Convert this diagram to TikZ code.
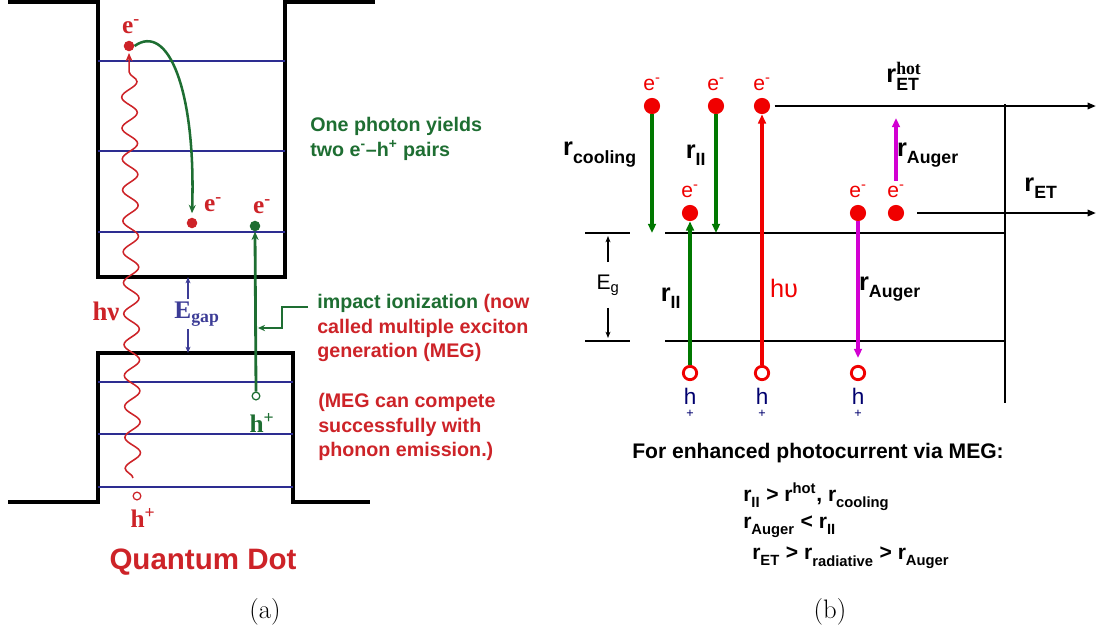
\documentclass[tikz,border=0pt]{standalone}
\usepackage{fontspec}
\setsansfont{Liberation Sans}
\newfontfamily\tmsfont{Liberation Serif}
\usepackage{amsmath}
\usetikzlibrary{arrows.meta, positioning, decorations.pathmorphing}
\definecolor{qdred}{RGB}{205,35,40}
\definecolor{qdgreen}{RGB}{30,110,50}
\definecolor{qdblue}{RGB}{45,45,145}
\definecolor{egblue}{RGB}{60,60,150}
\definecolor{ratered}{RGB}{240,0,0}
\definecolor{rategreen}{RGB}{0,120,0}
\definecolor{augmag}{RGB}{210,0,210}
\definecolor{holeblue}{RGB}{0,0,110}

\tikzset{
  wall/.style={line width=2.4pt, line join=miter},
  level/.style={qdblue, line width=2pt},
  qdot/.style={circle, fill=#1, inner sep=0pt, minimum size=7.5pt},
  qhole/.style={circle, draw=#1, line width=0.9pt, inner sep=0pt, minimum size=5.5pt},
  serlab/.style={font=\tmsfont\bfseries\fontsize{18}{18}\selectfont, inner sep=0pt},
  qtext/.style={font=\sffamily\bfseries\fontsize{14}{17.5}\selectfont, align=left, inner sep=0pt, anchor=north west},
  band/.style={line width=2pt},
  edot/.style={circle, fill=ratered, inner sep=0pt, minimum size=11.5pt},
  hdot/.style={circle, draw=ratered, line width=2pt, inner sep=0pt, minimum size=9.5pt},
  elab/.style={ratered, font=\sffamily\fontsize{15}{15}\selectfont, inner sep=0pt},
  hlab/.style={holeblue, font=\sffamily\fontsize{16}{10}\selectfont, align=center, inner sep=0pt},
  rlab/.style={font=\sffamily\bfseries\fontsize{18}{18}\selectfont, inner sep=0pt},
  trans/.style={line width=2.2pt, -{Triangle[length=6.5pt,width=5.5pt]}},
  thinarr/.style={line width=0.8pt, -{Stealth[length=4.5pt,width=3.5pt]}},
  capt/.style={font=\fontsize{19}{19}\selectfont, inner sep=0pt}
}
\newcommand\rsub[2][]{r$^{\text{#1}}_{\text{#2}}$}

\begin{document}
\begin{tikzpicture}[x=0.025cm, y=-0.025cm]
\useasboundingbox (0,0) rectangle (1098,634);

% ---------- (a) quantum dot ----------
\draw[wall] (8,2) -- (98,2) -- (98,277) -- (285,277) -- (285,2) -- (375,2);
\draw[wall] (8,502) -- (98,502) -- (98,353) -- (293,353) -- (293,502) -- (370,502);
\foreach \y in {61,151,232} \draw[level] (98,\y) -- (285,\y);
\foreach \y in {382,434,487} \draw[level] (98,\y) -- (293,\y);

\node[qdot=qdred] (e1) at (129,46) {};
\node[qdot=qdred] (e2) at (192,223) {};
\node[qdot=qdgreen] (e3) at (255,226) {};
\node[qhole=qdred] (h1) at (137,496) {};
\node[qhole=qdgreen] (h2) at (256,396) {};

\node[serlab, qdred] (e1lab) at (131,27) {e\textsuperscript{-}};
\node[serlab, qdred] (e2lab) at (213,205) {e\textsuperscript{-}};
\node[serlab, qdred] (e3lab) at (262,207) {e\textsuperscript{-}};
\node[serlab, qdred] (h1lab) at (143,518) {h\textsuperscript{+}};
\node[serlab, qdgreen] (h2lab) at (262,423) {h\textsuperscript{+}};
\node[serlab, qdred, font=\tmsfont\bfseries\fontsize{19}{19}\selectfont] (hnu) at (106,311) {hν};

% photon
\coordinate (wstart) at (133,478);
\draw[qdred, line width=1.1pt, decorate,
  decoration={snake, amplitude=5.5pt, segment length=22pt, post length=6pt},
  -{Stealth[length=6pt,width=5pt]}] (wstart) -- ([yshift=-1pt]e1.south);

% impact ionization
\draw[qdgreen, line width=1.8pt, -{Stealth[length=6pt,width=5pt]}]
  (e1.east) .. controls (168,22) and (196,90) .. ([yshift=3pt]e2.north);
\draw[qdgreen, line width=2pt, -{Stealth[length=6pt,width=5pt]}] (h2.north) -- (e3.south);

% gap
\node[serlab, egblue, font=\tmsfont\bfseries\fontsize{18}{18}\selectfont] (egap) at (197,314) {E$_{\text{gap}}$};
\coordinate (wellbot) at (188,277);
\coordinate (boxtop) at (188,353);
\draw[egblue, thinarr] ([yshift=2pt]egap.north -| wellbot) -- (wellbot);
\draw[egblue, thinarr] ([yshift=-2pt]egap.south -| boxtop) -- (boxtop);

\node[qtext, qdgreen] (pairs) at (310,117) {One photon yields\\two e\textsuperscript{-}–h\textsuperscript{+} pairs};
\node[qtext, qdred] (impact) at (317,294) {\textcolor{qdgreen}{impact ionization} (now\\called multiple exciton\\generation (MEG)};
\node[qtext, qdred] (compete) at (318,393) {(MEG can compete\\successfully with\\phonon emission.)};
\coordinate (ptr) at (308,307);
\coordinate (ionhit) at (258,328);
\draw[qdgreen, line width=1.8pt, -{Stealth[length=5pt,width=4.5pt]}] (ptr) -- ++(-26,0) |- (ionhit);

\node[qdred, font=\sffamily\bfseries\fontsize{21}{21}\selectfont, inner sep=0pt] (qdname) at (203,562) {Quantum Dot};

% ---------- (b) rates ----------
\draw[band] (585,233) -- (630,233);
\draw[band] (585,341) -- (630,341);
\draw[band] (665,233) -- (1005,233);
\draw[band] (665,341) -- (1005,341);
\draw[band] (1005,104) -- (1005,403);

\node[edot] (T1) at (652,106) {};
\node[edot] (T2) at (716,106) {};
\node[edot] (T3) at (762,106) {};
\node[edot] (L1) at (690,213) {};
\node[edot] (L2) at (858,213) {};
\node[edot] (L3) at (896,213) {};
\node[hdot] (H1) at (690,373) {};
\node[hdot] (H2) at (762,373) {};
\node[hdot] (H3) at (858,373) {};

\foreach \d in {T1,T2,T3,L1,L2,L3}
  \node[elab, above=5pt of \d] (\d lab) {e\textsuperscript{-}};
\foreach \d in {H1,H2,H3}
  \node[hlab, below=5pt of \d] (\d lab) {h\\[-1pt]{\fontsize{9}{9}\selectfont +}};

\coordinate (topend) at (1096,106);
\coordinate (etend) at (1096,213);
\draw[band, -{Triangle[length=6pt,width=4.5pt]}, shorten <=3pt] (T3.east) -- (topend);
\draw[band, -{Triangle[length=6pt,width=4.5pt]}, shorten <=9pt] (L3.east) -- (etend);

\coordinate (cool) at (652,233);
\coordinate (relax) at (716,233);
\coordinate (augdown) at (858,358);
\coordinate (augup) at (896,118);
\draw[trans, rategreen] (T1.south) -- (cool);
\draw[trans, rategreen] (T2.south) -- (relax);
\draw[trans, rategreen] (H1.north) -- (L1.south);
\draw[trans, ratered] (H2.north) -- (T3.south);
\draw[trans, augmag] (L2.south) -- (augdown);
\draw[trans, augmag] ([yshift=0.6cm]L3.north) -- (augup);

\node[inner sep=0pt, minimum height=32pt, font=\sffamily\fontsize{15}{15}\selectfont] (Eg) at (608,285) {E$_{\text{g}}$};
\coordinate (gtop) at (608,236);
\coordinate (gbot) at (608,338);
\draw[thinarr] (Eg.north) -- (gtop);
\draw[thinarr] (Eg.south) -- (gbot);

\node[rlab] (rcool) at (600,155) {\rsub{cooling}};
\node[rlab] (riiup) at (696,155) {\rsub{II}};
\node[rlab] (riilow) at (671,298) {\rsub{II}};
\node[ratered, font=\sffamily\fontsize{18}{18}\selectfont, inner sep=0pt] (hups) at (784,288) {hυ};
\node[rlab] (raglow) at (890,289) {\rsub{Auger}};
\node[rlab] (ragup) at (928,155) {\rsub{Auger}};
\node[rlab] (rethot) at (904,76) {\rsub[\tmsfont hot]{ET}};
\node[rlab] (ret) at (1041,188) {\rsub{ET}};

\node[font=\sffamily\bfseries\fontsize{15}{15}\selectfont, inner sep=0pt] (cond) at (818,453) {For enhanced photocurrent via MEG:};
\node[font=\sffamily\bfseries\fontsize{15}{15}\selectfont, inner sep=0pt, anchor=west] (cond1) at (743,497) {\rsub{II} > \rsub[hot]{}, \rsub{cooling}};
\node[font=\sffamily\bfseries\fontsize{15}{15}\selectfont, inner sep=0pt, anchor=west] (cond2) at (743,527) {\rsub{Auger} < \rsub{II}};
\node[font=\sffamily\bfseries\fontsize{15}{15}\selectfont, inner sep=0pt, anchor=west] (cond3) at (752,558) {\rsub{ET} > \rsub{radiative} > \rsub{Auger}};

\node[capt] (capa) at (265,612) {(a)};
\node[capt] (capb) at (830,612) {(b)};
\end{tikzpicture}
\end{document}
